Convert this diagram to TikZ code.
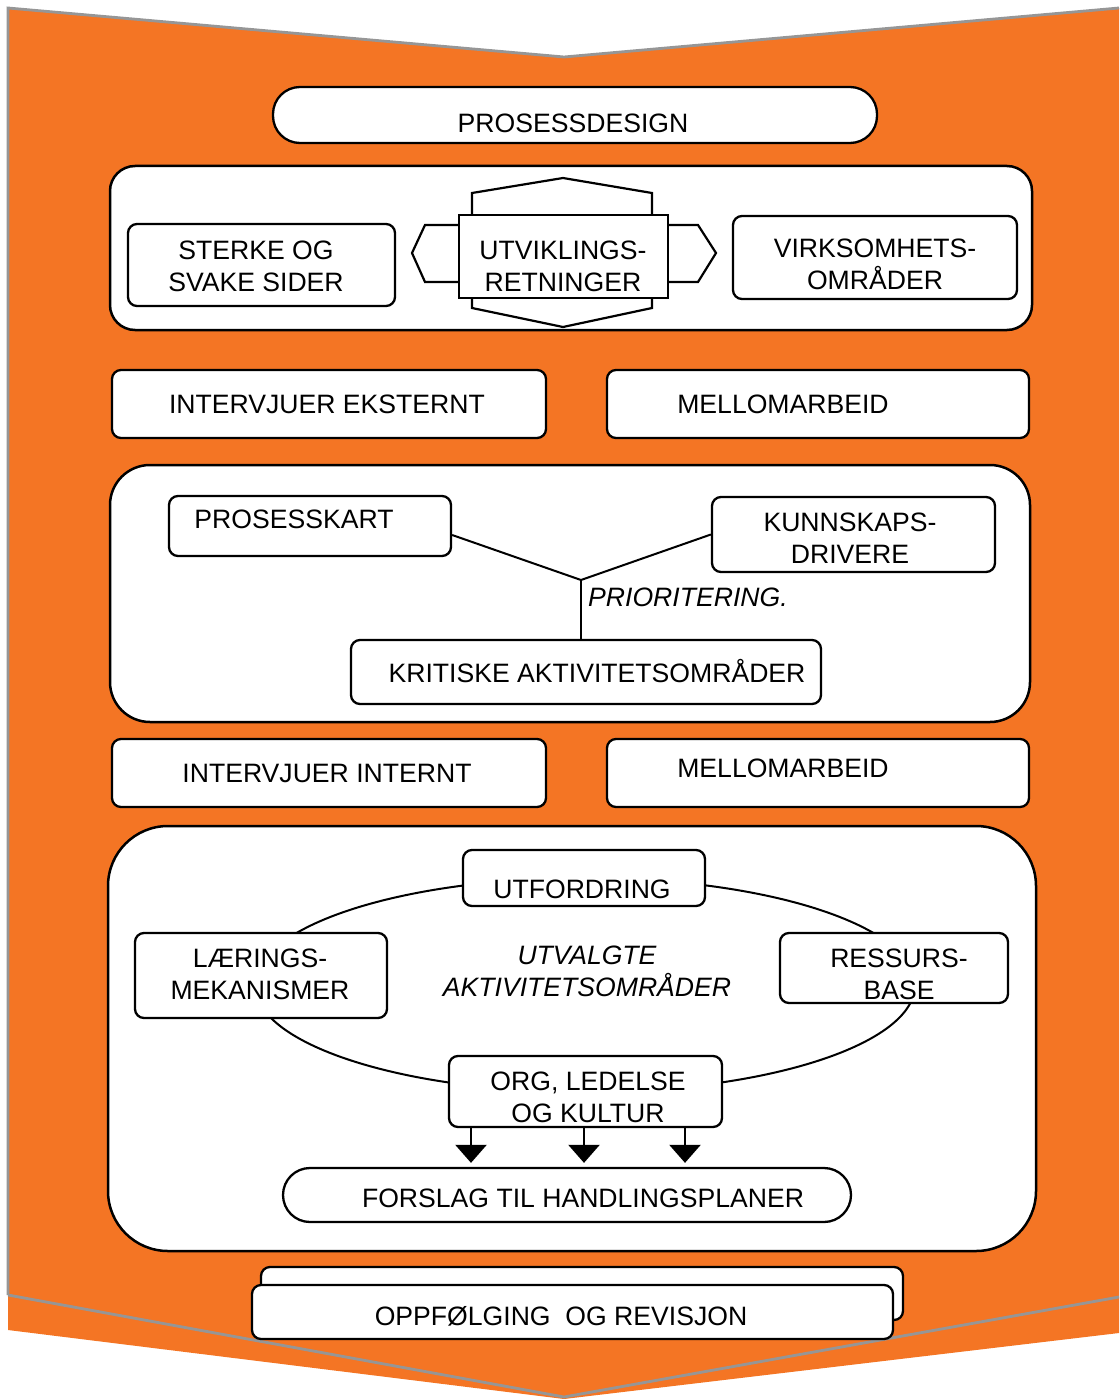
\documentclass[tikz,border=0pt]{standalone}
\usepackage{fontspec}
\setmainfont{Liberation Sans}
\usetikzlibrary{arrows.meta,calc}
\definecolor{orng}{RGB}{244,117,36}
\definecolor{edgegray}{RGB}{150,150,150}
\begin{document}
\begin{tikzpicture}[x=1pt,y=-1pt,
  box/.style={draw=black, line width=2.3pt, fill=white, rounded corners=9pt, inner sep=0pt},
  bigbox/.style={draw=black, line width=2.5pt, fill=white, inner sep=0pt},
  txt/.style={font=\fontsize{26.6}{32}\selectfont, align=center, inner sep=0pt},
  itxt/.style={font=\fontsize{26.6}{32}\selectfont\itshape, align=center, inner sep=0pt},
  conn/.style={line width=2pt},
  hexs/.style={draw=black, line width=2.2pt, fill=white},
  dn/.style={line width=2.4pt, -{Triangle[width=31pt,length=18pt]}},
]
\useasboundingbox (0,0) rectangle (1119,1399);
% background chevron
\fill[orng] (8,8) -- (564,57) -- (1119,8) -- (1119,1333) -- (564,1399) -- (8,1330) -- cycle;
\draw[edgegray, line width=2.8pt] (8,1295) -- (8,8) -- (564,57) -- (1119,8);
\draw[edgegray, line width=2.8pt] (8,1295) -- (564,1397) -- (1119,1297);

% top
\node[box, rounded corners=27pt, minimum width=604pt, minimum height=56pt] (pd) at (575,115) {};
\node[txt] (tpd) at (573,123) {PROSESSDESIGN};

% section 1
\node[bigbox, rounded corners=25pt, minimum width=922pt, minimum height=164pt] (b1) at (571,248) {};
\node[box, minimum width=267pt, minimum height=82pt] (sterke) at (261.5,265) {};
\node[txt] (tsterke) at (256,266) {STERKE OG\\SVAKE SIDER};
\filldraw[hexs] (472,193) -- (563,178) -- (652,193) -- (652,308) -- (563,327) -- (472,308) -- cycle;
\filldraw[hexs] (425,225) -- (412,253) -- (425,282) -- (698,282) -- (716,253) -- (698,225) -- cycle;
\node[box, rounded corners=0pt, minimum width=209pt, minimum height=83pt] (utv) at (563.5,256.5) {};
\node[txt] (tutv) at (563,266) {UTVIKLINGS-\\RETNINGER};
\node[box, minimum width=284pt, minimum height=83pt] (virk) at (875,257.5) {};
\node[txt] (tvirk) at (875,264) {VIRKSOMHETS-\\OMRÅDER};

% row 2
\node[box, minimum width=434pt, minimum height=68pt] (ie) at (329,404) {};
\node[txt] (tie) at (327,404) {INTERVJUER EKSTERNT};
\node[box, minimum width=422pt, minimum height=68pt] (mel1) at (818,404) {};
\node[txt] (tmel1) at (783,404) {MELLOMARBEID};

% section 2
\node[bigbox, rounded corners=40pt, minimum width=920pt, minimum height=257pt] (b2) at (570,593.5) {};
\node[box, minimum width=282pt, minimum height=60pt] (pk) at (310,526) {};
\node[txt] (tpk) at (294,519) {PROSESSKART};
\node[box, minimum width=283pt, minimum height=75pt] (kd) at (853.5,534.5) {};
\node[txt] (tkd) at (850,538) {KUNNSKAPS-\\DRIVERE};
\node[box, minimum width=470pt, minimum height=64pt] (kr) at (586,672) {};
\node[txt] (tkr) at (597,671) {KRITISKE AKTIVITETSOMRÅDER};
\coordinate (j) at (581,580);
\draw[conn] ($(pk.east)+(0,9)$) -- (j);
\draw[conn] (kd.west) -- (j);
\draw[conn] (j) -- (kr.north -| j);
\node[itxt, anchor=west] (tprio) at (588,597) {PRIORITERING.};

% row 4
\node[box, minimum width=434pt, minimum height=68pt] (ii) at (329,773) {};
\node[txt] (tii) at (327,773) {INTERVJUER INTERNT};
\node[box, minimum width=422pt, minimum height=68pt] (mel2) at (818,773) {};
\node[txt] (tmel2) at (783,768) {MELLOMARBEID};

% section 3
\node[bigbox, rounded corners=60pt, minimum width=928pt, minimum height=425pt] (b3) at (572,1038.5) {};
\draw[conn] (585,985) ellipse [x radius=330, y radius=107];
\node[box, minimum width=242pt, minimum height=56pt] (utf) at (584,878) {};
\node[txt] (tutf) at (582,889) {UTFORDRING};
\node[box, minimum width=252pt, minimum height=85pt] (lae) at (261,975.5) {};
\node[txt] (tlae) at (260,974) {LÆRINGS-\\MEKANISMER};
\node[box, minimum width=228pt, minimum height=70pt] (res) at (894,968) {};
\node[txt] (tres) at (899,974) {RESSURS-\\BASE};
\node[itxt] (tutv2) at (587,971) {UTVALGTE\\AKTIVITETSOMRÅDER};
\node[box, minimum width=273pt, minimum height=71pt] (org) at (585.5,1091.5) {};
\node[txt] (torg) at (588,1097) {ORG, LEDELSE\\OG KULTUR};
\node[box, rounded corners=27pt, minimum width=568pt, minimum height=54pt] (fh) at (567,1195) {};
\node[txt] (tfh) at (583,1198) {FORSLAG TIL HANDLINGSPLANER};
\draw[dn] (org.south -| 471,0) -- ($(fh.north -| 471,0)+(0,-4)$);
\draw[dn] (org.south -| 584,0) -- ($(fh.north -| 584,0)+(0,-4)$);
\draw[dn] (org.south -| 685,0) -- ($(fh.north -| 685,0)+(0,-4)$);

% bottom
\node[box, minimum width=642pt, minimum height=53pt] (back) at (582,1293.5) {};
\node[box, minimum width=641pt, minimum height=54pt] (front) at (572.5,1312) {};
\node[txt] (tfront) at (561,1316) {OPPFØLGING\ \ OG REVISJON};
\end{tikzpicture}
\end{document}
